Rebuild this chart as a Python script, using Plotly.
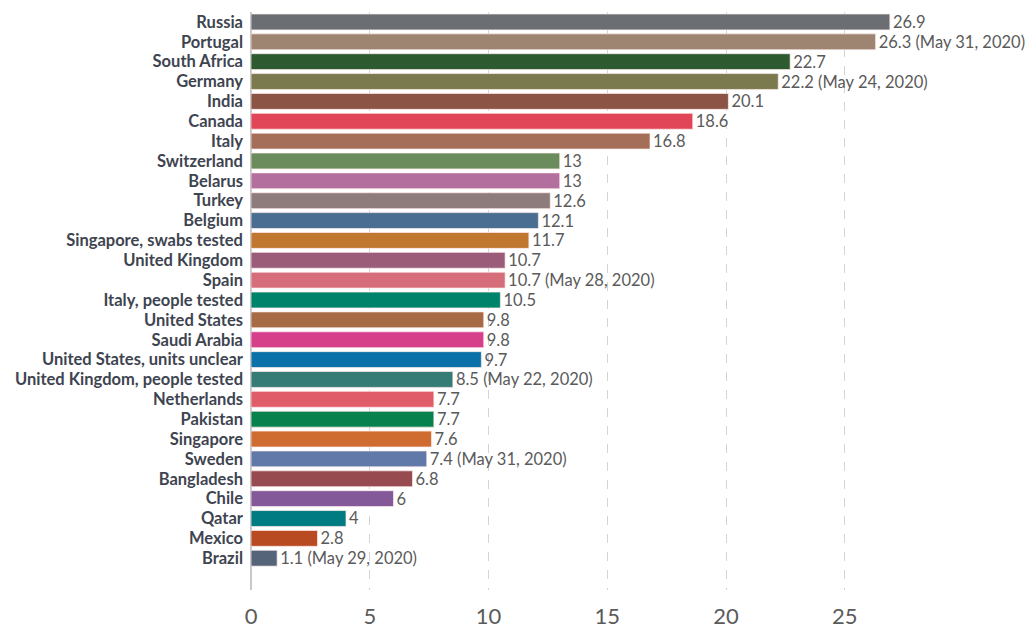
import plotly.graph_objects as go

countries = ["Russia", "Portugal", "South Africa", "Germany", "India", "Canada", "Italy",
             "Switzerland", "Belarus", "Turkey", "Belgium", "Singapore, swabs tested",
             "United Kingdom", "Spain", "Italy, people tested", "United States", "Saudi Arabia",
             "United States, units unclear", "United Kingdom, people tested", "Netherlands",
             "Pakistan", "Singapore", "Sweden", "Bangladesh", "Chile", "Qatar", "Mexico", "Brazil"]
values = [26.9, 26.3, 22.7, 22.2, 20.1, 18.6, 16.8, 13, 13, 12.6, 12.1, 11.7, 10.7, 10.7,
          10.5, 9.8, 9.8, 9.7, 8.5, 7.7, 7.7, 7.6, 7.4, 6.8, 6, 4, 2.8, 1.1]
date_notes = ["", " (May 31, 2020)", "", " (May 24, 2020)", "", "", "", "", "", "", "", "",
              "", " (May 28, 2020)", "", "", "", "", " (May 22, 2020)", "", "", "", " (May 31, 2020)",
              "", "", "", "", " (May 29, 2020)"]
colors = ["#6b6e73", "#9e8572", "#2d5a2f", "#7b7a4e", "#8b5444", "#e04558", "#a56e58",
          "#6b8c5c", "#b3709f", "#8e7b7c", "#4a6e91", "#c0772f", "#9a5c79", "#d56d7a",
          "#00836b", "#a66a45", "#d63f8a", "#0a72a8", "#357b76", "#e05c68", "#07824f",
          "#cf6c30", "#6079a8", "#974b50", "#83599a", "#007b82", "#b94b22", "#566479"]
x_ticks = [0, 5, 10, 15, 20, 25]

labels = [f"{v:g}{n}" for v, n in zip(values, date_notes)]

fig = go.Figure(go.Bar(
    x=values, y=countries, orientation="h",
    marker=dict(color=colors, line=dict(color="rgba(255,235,235,0.7)", width=1)),
    text=labels, textposition="outside", cliponaxis=False, constraintext="none",
    textfont=dict(family="Lato", size=16.5, color="#5a5a5a"),
    width=0.8,
))

fig.update_layout(
    width=1031, height=628,
    margin=dict(l=251, r=20, t=12, b=38),
    plot_bgcolor="white", paper_bgcolor="white",
    showlegend=False,
    xaxis=dict(range=[0, 32], tickvals=x_ticks, showgrid=True, gridcolor="#d4d4d4",
               griddash="dash", gridwidth=1, zeroline=True, zerolinecolor="#c8c8c8",
               zerolinewidth=2, showline=False, ticks="", automargin=False,
               ticklabelstandoff=11,
               tickfont=dict(family="Lato", size=22, color="#5b5b5b")),
    yaxis=dict(categoryorder="array", categoryarray=countries, automargin=False,
               tickmode="linear", dtick=1, tick0=0,
               range=[28.6, -0.5], showgrid=False, ticks="", ticklabelstandoff=7,
               tickfont=dict(family="Lato", size=16.5, color="#3e4450", weight="bold")),
)
fig.write_html("out.html", config={"displayModeBar": False},
               post_script="document.body.style.margin='0';document.body.style.padding='0';")
